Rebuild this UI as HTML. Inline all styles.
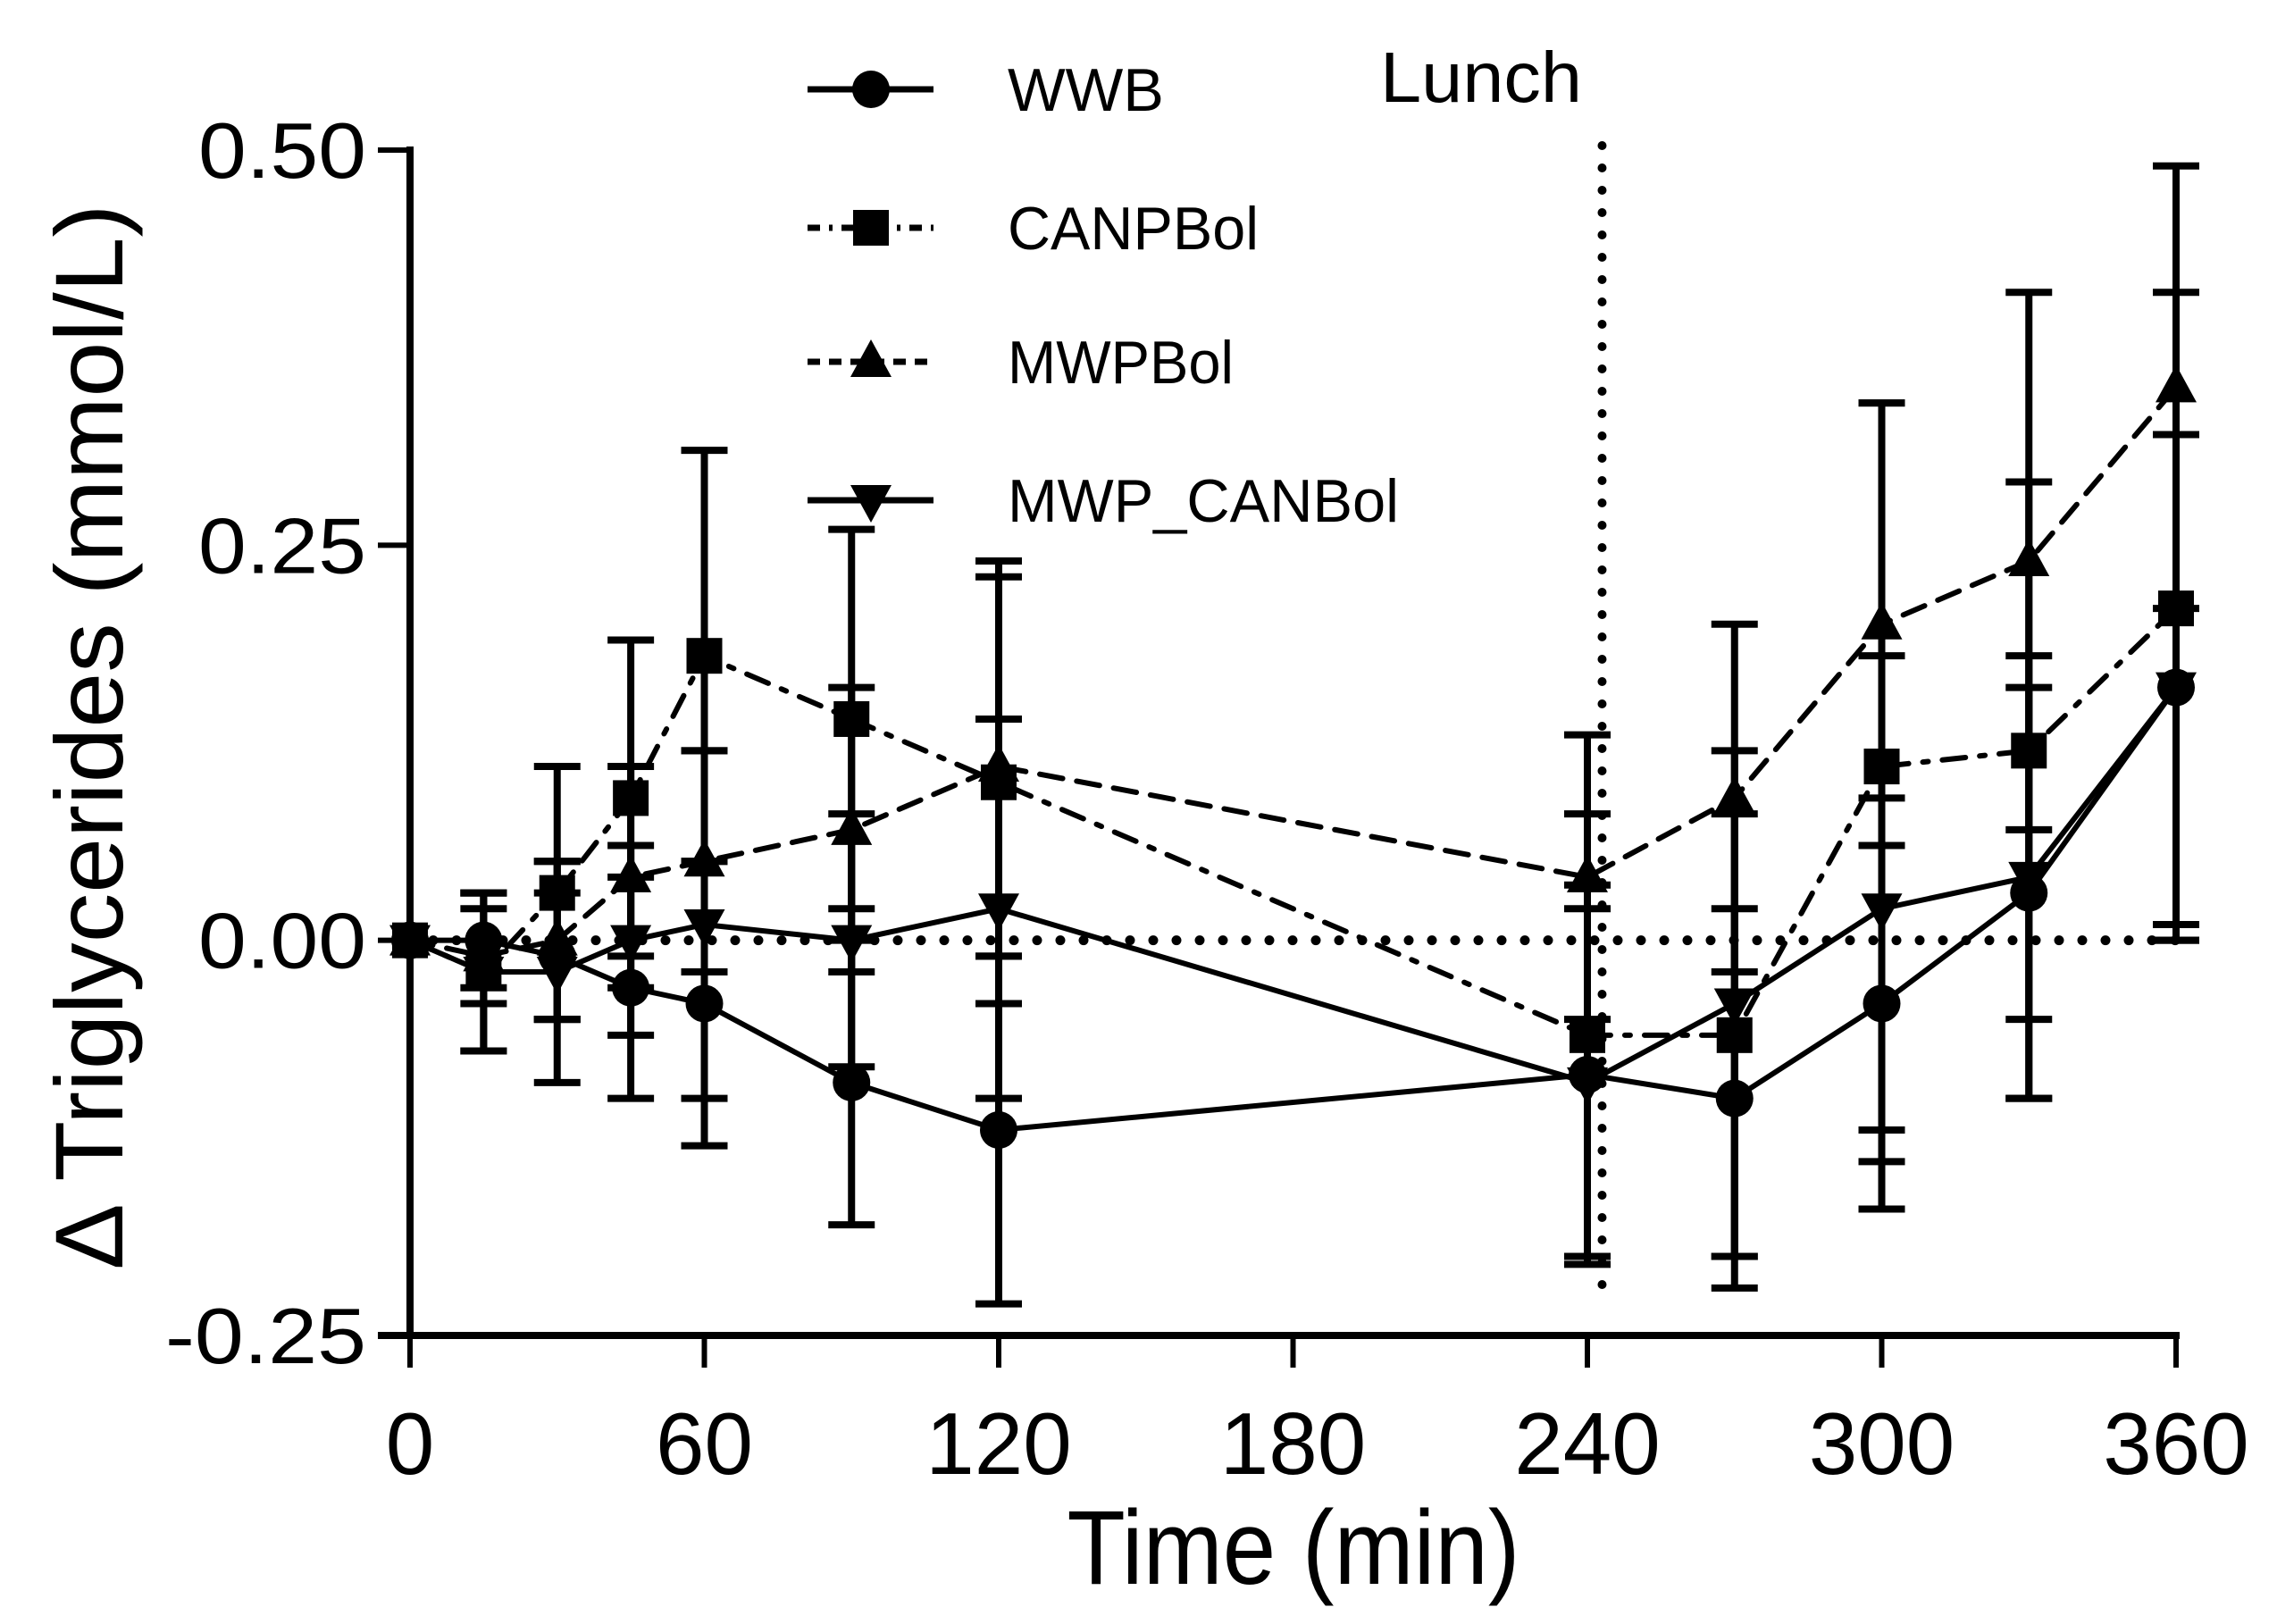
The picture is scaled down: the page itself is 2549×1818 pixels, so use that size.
<!DOCTYPE html>
<html><head><meta charset="utf-8"><style>
html,body{margin:0;padding:0;background:#fff;}
svg{display:block;font-family:"Liberation Sans",Arial,sans-serif;}
</style></head><body>
<svg id="chart" width="2549" height="1818" viewBox="0 0 2549 1818" xmlns="http://www.w3.org/2000/svg">
</svg>
<script>
const times = [0,15,30,45,60,90,120,240,270,300,330,360];
const wwbMean = [0,0,-0.01,-0.03,-0.04,-0.09,-0.12,-0.085,-0.10,-0.04,0.03,0.16];
const wwbSem = [0,0.03,0.04,0.07,0.09,0.09,0.11,0.12,0.12,0.13,0.13,0.16];
const canMean = [0,-0.02,0.03,0.09,0.18,0.14,0.10,-0.06,-0.06,0.11,0.12,0.21];
const canSem = [0,0.05,0.08,0.10,0.13,0.12,0.14,0.14,0.14,0.23,0.17,0.20];
const mwpMean = [0,-0.01,0,0.04,0.05,0.07,0.11,0.04,0.09,0.20,0.24,0.35];
const mwpSem = [0,0.03,0.05,0.07,0.07,0.09,0.12,0.09,0.11,0.14,0.17,0.14];
const mcMean = [0,-0.02,-0.02,0,0.01,0,0.02,-0.09,-0.04,0.02,0.04,0.16];
const mcSem = [0,0.05,0.07,0.06,0.11,0.08,0.12,0.11,0.16,0.16,0.14,0.16];
const xTicks = [0,60,120,180,240,300,360];
const yTicks = [-0.25,0,0.25,0.5];
const yTickLabels = ["-0.25","0.00","0.25","0.50"];
const lunchTime = 243;

const NS="http://www.w3.org/2000/svg";
const svg=document.getElementById('chart');
const X0=459,X1=2436,Y0=1495,Y1=168;
const xs=t=>X0+(t-0)/(360-0)*(X1-X0);
const ys=v=>Y0-(v-(-0.25))/(0.5-(-0.25))*(Y0-Y1);
function mk(tag,attrs,parent){const e=document.createElementNS(NS,tag);for(const k in attrs)e.setAttribute(k,attrs[k]);(parent||svg).appendChild(e);return e;}

let zl=mk('line',{x1:xs(0),x2:xs(360),y1:ys(0),y2:ys(0),stroke:'#000','stroke-width':11,'stroke-dasharray':'0 26','stroke-linecap':'round'});


let ll=mk('line',{x1:xs(lunchTime),x2:xs(lunchTime),y1:163,y2:1440,stroke:'#000','stroke-width':10,'stroke-dasharray':'0 25','stroke-linecap':'round'});


let lt=mk('text',{x:1545,y:114,'font-size':80,textLength:226,lengthAdjust:'spacingAndGlyphs'});
lt.textContent='Lunch';



let ya=mk('line',{x1:X0,x2:X0,y1:Y1-4,y2:Y0+4,stroke:'#000','stroke-width':8});


let xa=mk('line',{x1:X0-36,x2:X1+4,y1:Y0,y2:Y0,stroke:'#000','stroke-width':8});


yTicks.forEach((v,i)=>{
  let t=mk('line',{x1:X0-36,x2:X0,y1:ys(v),y2:ys(v),stroke:'#000','stroke-width':6});
  
  
  let lab=yTickLabels[i];
  let tx=mk('text',{x:410,y:ys(v)+31,'font-size':88,'text-anchor':'end',textLength:lab.length===5?225:188,lengthAdjust:'spacingAndGlyphs'});
  tx.textContent=lab;
  
  
});
xTicks.forEach(v=>{
  let t=mk('line',{x1:xs(v),x2:xs(v),y1:Y0,y2:Y0+36,stroke:'#000','stroke-width':6});
  
  
  let tx=mk('text',{x:xs(v),y:1650,'font-size':98,'text-anchor':'middle'});
  tx.textContent=String(v);
  
  
});
let xt=mk('text',{x:1448,y:1773,'font-size':118,'text-anchor':'middle',textLength:507,lengthAdjust:'spacingAndGlyphs'});
xt.textContent='Time (min)';


let yt=mk('text',{x:0,y:0,'font-size':108,'text-anchor':'middle',transform:'translate(137,825) rotate(-90)',textLength:1193,lengthAdjust:'spacingAndGlyphs'});
yt.textContent='\u0394 Triglycerides (mmol/L)';



function marker(kind,cx,cy,parent){
  if(kind==='circle') return mk('circle',{cx:cx,cy:cy,r:21,fill:'#000'},parent);
  if(kind==='square') return mk('rect',{x:cx-20,y:cy-20,width:40,height:40,fill:'#000'},parent);
  if(kind==='up') return mk('polygon',{points:`${cx},${cy-25} ${cx-23},${cy+17} ${cx+23},${cy+17}`,fill:'#000'},parent);
  return mk('polygon',{points:`${cx},${cy+25} ${cx-23},${cy-17} ${cx+23},${cy-17}`,fill:'#000'},parent);
}
const series=[
  {name:'wwb',mean:wwbMean,sem:wwbSem,dash:'',m:'circle'},
  {name:'canpbol',mean:canMean,sem:canSem,dash:'26 16 6 16',m:'square'},
  {name:'mwpbol',mean:mwpMean,sem:mwpSem,dash:'26 16',m:'up'},
  {name:'mwp-canbol',mean:mcMean,sem:mcSem,dash:'',m:'down'}
];
series.forEach(s=>{
  const g=mk('g',{});
  
  
  s.mean.forEach((v,i)=>{
    if(s.sem[i]<=0) return;
    const x=xs(times[i]);
    const e=mk('path',{d:`M${x},${ys(v+s.sem[i])}V${ys(v-s.sem[i])}M${x-26},${ys(v+s.sem[i])}h52M${x-26},${ys(v-s.sem[i])}h52`,stroke:'#000','stroke-width':8,fill:'none'},g);
    
    
  });
  const pts=s.mean.map((v,i)=>xs(times[i])+','+ys(v)).join(' ');
  const pl=mk('polyline',{points:pts,fill:'none',stroke:'#000','stroke-width':6,'stroke-dasharray':s.dash,'stroke-linecap':'round'},g);
  
  
  s.mean.forEach((v,i)=>{
    const m=marker(s.m,xs(times[i]),ys(v),g);
    
    
  });
});

const legendLabels=['WWB','CANPBol','MWPBol','MWP_CANBol'];
const legendWidths=[175,281,253,438];
const legendY=[100,255,405,560];
const lg=mk('g',{});


series.forEach((s,i)=>{
  const y=legendY[i];
  const ln=mk('line',{x1:904,x2:1045,y1:y,y2:y,stroke:'#000','stroke-width':7,'stroke-dasharray':s.dash?(s.m==='square'?'14 10 4 10':'14 10'):''},lg);
  
  
  const m=marker(s.m,975,y,lg);
  
  
  const t=mk('text',{x:1128,y:y+24,'font-size':68,textLength:legendWidths[i],lengthAdjust:'spacingAndGlyphs'},lg);
  t.textContent=legendLabels[i];
  
  
});
</script>
</body></html>
